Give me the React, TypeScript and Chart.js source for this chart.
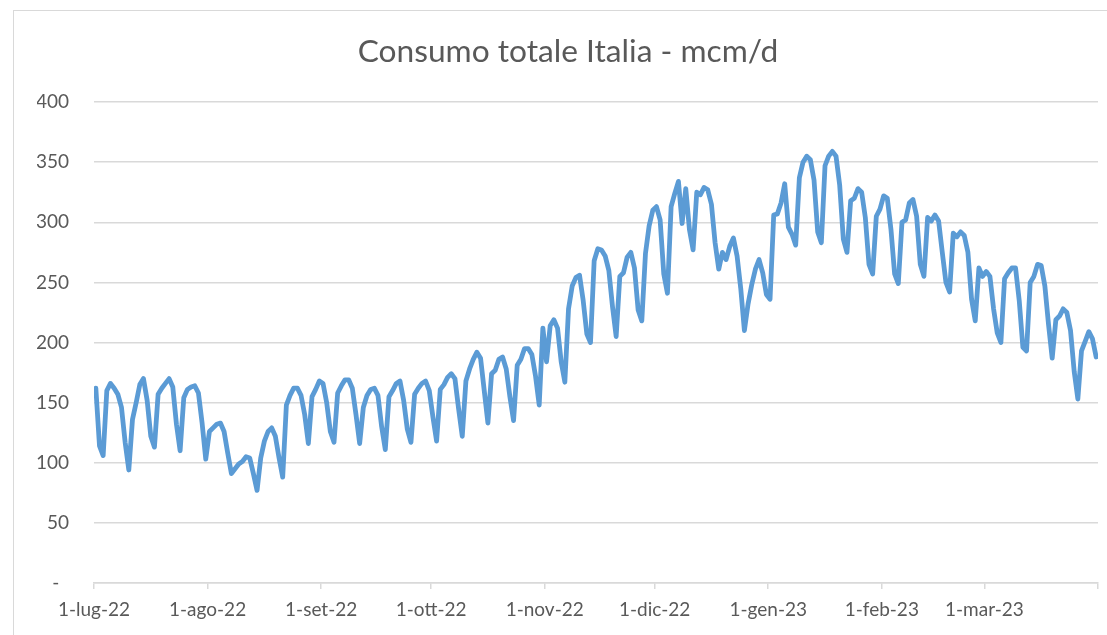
import React, { useEffect, useRef } from "react";
import { Chart, registerables } from "chart.js";

Chart.register(...registerables);

// Daily consumption, mcm/d (1 Jul 2022 – 31 Mar 2023)
const lug22 = [162, 114, 106, 160, 166, 162, 157, 146, 117, 94, 136, 150, 165, 170, 152, 122, 113, 157, 162, 166, 170, 163, 132, 110, 154, 161, 163, 164, 158, 133, 103];
const ago22 = [126, 129, 132, 133, 126, 108, 91, 95, 99, 101, 105, 104, 91, 77, 104, 118, 126, 129, 122, 104, 88, 148, 156, 162, 162, 156, 140, 116, 155, 161, 168];
const set22 = [166, 150, 126, 117, 158, 164, 169, 169, 162, 140, 116, 146, 156, 161, 162, 156, 130, 111, 155, 160, 166, 168, 152, 128, 117, 157, 162, 166, 168, 160];
const ott22 = [138, 118, 161, 165, 171, 174, 170, 145, 122, 168, 178, 186, 192, 187, 160, 133, 174, 177, 186, 188, 178, 155, 135, 181, 186, 195, 195, 190, 172, 148, 212];
const nov22 = [184, 214, 219, 212, 184, 167, 228, 247, 254, 256, 235, 207, 200, 268, 278, 277, 272, 260, 230, 205, 255, 258, 271, 275, 262, 227, 218, 274, 297, 310];
const dic22 = [313, 302, 257, 241, 313, 324, 334, 299, 328, 294, 277, 325, 323, 329, 327, 315, 283, 261, 275, 269, 280, 287, 272, 245, 210, 232, 248, 261, 269, 258, 240];
const gen23 = [236, 306, 307, 316, 332, 296, 290, 281, 337, 350, 355, 352, 335, 292, 283, 347, 355, 359, 355, 331, 286, 275, 318, 320, 328, 325, 304, 265, 257, 305, 311];
const feb23 = [322, 320, 294, 257, 249, 300, 302, 316, 319, 305, 265, 255, 304, 301, 306, 301, 275, 250, 242, 291, 288, 292, 289, 275, 236, 218, 262, 255];
const mar23 = [259, 255, 228, 208, 200, 253, 258, 262, 262, 235, 196, 193, 250, 255, 265, 264, 247, 215, 187, 219, 222, 228, 225, 210, 176, 153, 193, 201, 209, 203, 188];

const monthSeries = [lug22, ago22, set22, ott22, nov22, dic22, gen23, feb23, mar23];
const monthLabels = ["1-lug-22", "1-ago-22", "1-set-22", "1-ott-22", "1-nov-22", "1-dic-22", "1-gen-23", "1-feb-23", "1-mar-23"];
const yTickValues = [0, 50, 100, 150, 200, 250, 300, 350, 400];
const chartTitle = "Consumo totale Italia - mcm/d";

export default function App() {
  const ref = useRef<HTMLCanvasElement>(null);

  useEffect(() => {
    const values: number[] = ([] as number[]).concat(...monthSeries);
    const points = values.map((v, i) => ({ x: i, y: v }));
    const starts: number[] = [];
    let acc = 0;
    monthSeries.forEach((m) => {
      starts.push(acc);
      acc += m.length;
    });
    const total = acc;
    const tickPositions = [...starts.map((s) => s - 0.5), total - 0.5];

    const textColor = "#595959";
    const gridColor = "#D9D9D9";

    const chart = new Chart(ref.current as HTMLCanvasElement, {
      type: "line",
      data: {
        datasets: [
          {
            data: points,
            borderColor: "#5B9BD5",
            backgroundColor: "#5B9BD5",
            borderWidth: 4.8,
            pointRadius: 0,
            tension: 0,
            borderJoinStyle: "round",
            borderCapStyle: "round",
            fill: false,
          },
        ],
      },
      options: {
        animation: false,
        responsive: false,
        devicePixelRatio: 1,
        layout: { padding: { left: 37, right: 8, top: 0, bottom: 0 } },
        plugins: {
          legend: { display: false },
          tooltip: { enabled: false },
          title: {
            display: true,
            text: chartTitle,
            color: textColor,
            font: { family: "Lato", size: 31.7, weight: "normal" },
            padding: { top: 33, bottom: 31 },
          },
        },
        scales: {
          x: {
            type: "linear",
            min: -0.5,
            max: total - 0.5,
            afterBuildTicks: (axis: any) => {
              axis.ticks = tickPositions.map((v) => ({ value: v }));
            },
            afterFit: (s: any) => {
              s.height = 52;
            },
            grid: {
              drawOnChartArea: false,
              drawTicks: true,
              tickLength: 6,
              color: gridColor,
              lineWidth: 1.5,
            },
            border: { display: true, color: gridColor, width: 1.5 },
            ticks: {
              autoSkip: false,
              maxRotation: 0,
              minRotation: 0,
              padding: 9,
              color: textColor,
              font: { family: "Lato", size: 19 },
              callback: (value: any) => {
                const idx = tickPositions.indexOf(Number(value));
                return idx >= 0 && idx < monthLabels.length ? monthLabels[idx] : "";
              },
            },
          },
          y: {
            min: 0,
            max: 400,
            afterBuildTicks: (axis: any) => {
              axis.ticks = yTickValues.map((v) => ({ value: v }));
            },
            afterFit: (s: any) => {
              s.width = 57;
            },
            grid: { color: gridColor, lineWidth: 1.5, drawTicks: false },
            border: { display: false },
            ticks: {
              padding: 25,
              color: textColor,
              font: { family: "Lato", size: 19 },
              callback: (value: any) => (Number(value) === 0 ? "-  " : String(value)),
            },
          },
        },
      },
    });
    return () => chart.destroy();
  }, []);

  return (
    <div
      style={{
        position: "fixed",
        left: 0,
        top: 0,
        width: 1107,
        height: 635,
        overflow: "hidden",
        background: "#ffffff",
      }}
    >
      <div
        style={{
          position: "absolute",
          left: 13,
          top: 10,
          width: 1200,
          height: 700,
          borderLeft: "1px solid #D9D9D9",
          borderTop: "1px solid #D9D9D9",
        }}
      />
      <canvas
        ref={ref}
        width={1107}
        height={635}
        style={{ position: "absolute", left: 0, top: 0, width: 1107, height: 635 }}
      />
    </div>
  );
}
